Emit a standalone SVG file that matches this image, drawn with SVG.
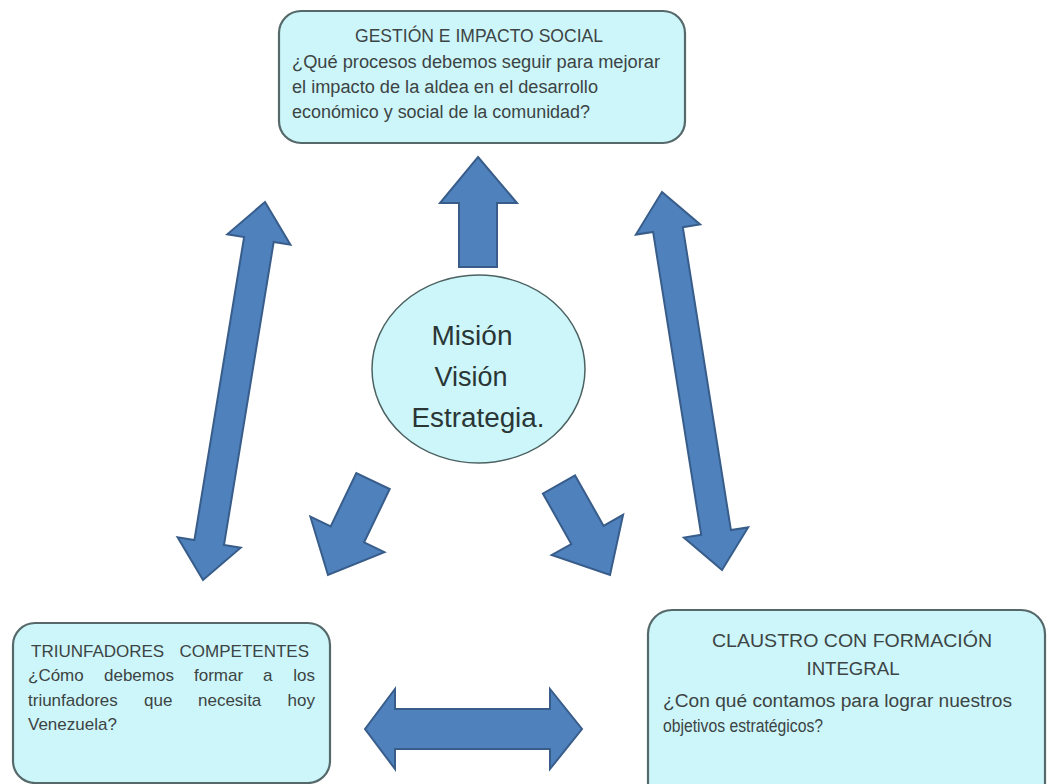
<svg xmlns="http://www.w3.org/2000/svg" width="1050" height="784" viewBox="0 0 1050 784">
  <style>
    .box { fill: #cdf6fa; stroke: #56696a; stroke-width: 2.2; }
    .oval { fill: #cdf6fa; stroke: #4d6262; stroke-width: 1.5; }
    .arrow { fill: #4f81bd; stroke: #385d8a; stroke-width: 2; stroke-linejoin: miter; }
    .t { font-family: "Liberation Sans", Arial, sans-serif; font-size: 18px; fill: #3c4444; }
    .s { font-family: "Liberation Sans", Arial, sans-serif; font-size: 17px; fill: #3c4444; }
    .big { font-family: "Liberation Sans", Arial, sans-serif; font-size: 27px; fill: #2a3636; text-anchor: middle; }
    .mid { text-anchor: middle; }
    .end { text-anchor: end; }
  </style>

  <rect width="1050" height="784" fill="#ffffff"/>

  <!-- connectors: block arrows -->
  <g id="connectors">
    <!-- centre to top box -->
    <polygon class="arrow" points="478,157 517,203 497,203 497,267 459,267 459,203 440,203"/>
    <!-- centre to bottom-left box -->
    <polygon class="arrow" points="389.7,489 364.1,542.4 384.4,552.1 328,575 310.4,516.7 330.7,526.4 356.3,473"/>
    <!-- centre to bottom-right box -->
    <polygon class="arrow" points="575.1,475.4 603.5,525.8 623.1,514.8 610,575 551.7,555 571.3,544 542.9,493.6"/>
    <!-- top box <-> bottom-left box -->
    <polygon class="arrow" points="265,202 290.4,244.7 273.7,241.9 224,544.9 240.7,547.7 203,580 177.6,537.3 194.4,540.1 244.1,237.1 227.3,234.3"/>
    <!-- top box <-> bottom-right box -->
    <polygon class="arrow" points="662,192 700.1,224.4 682.8,227.2 730.9,530.1 748.1,527.4 722,570 683.9,537.6 701.2,534.8 653.1,231.9 635.9,234.6"/>
    <!-- bottom-left box <-> bottom-right box -->
    <polygon class="arrow" points="365,729 395,689 395,709 550,709 550,689 582,729 550,769 550,749 395,749 395,769"/>
  </g>

  <!-- top node -->
  <g id="gestion">
    <rect class="box" x="279" y="11" width="406" height="132" rx="22" ry="22"/>
    <text class="t mid" x="479" y="42" textLength="248" lengthAdjust="spacingAndGlyphs">GESTIÓN  E IMPACTO  SOCIAL</text>
    <text class="t" x="292" y="68" textLength="368" lengthAdjust="spacingAndGlyphs">¿Qué procesos debemos  seguir para  mejorar</text>
    <text class="t" x="292" y="93" textLength="306" lengthAdjust="spacingAndGlyphs">el  impacto de la aldea  en el desarrollo</text>
    <text class="t" x="292" y="118" textLength="298" lengthAdjust="spacingAndGlyphs">económico y  social de la comunidad?</text>
  </g>

  <!-- centre node -->
  <g id="mision">
    <ellipse class="oval" cx="478.5" cy="369" rx="106.5" ry="94"/>
    <text class="big" x="472" y="345" textLength="81" lengthAdjust="spacingAndGlyphs">Misión</text>
    <text class="big" x="471" y="386" textLength="73" lengthAdjust="spacingAndGlyphs">Visión</text>
    <text class="big" x="478" y="427" textLength="133" lengthAdjust="spacingAndGlyphs">Estrategia.</text>
  </g>

  <!-- bottom-left node: justified lines, one text per word -->
  <g id="triunfadores">
    <rect class="box" x="13" y="623" width="317" height="160" rx="22" ry="22"/>
    <text class="s" x="31" y="657">TRIUNFADORES</text>
    <text class="s end" x="309" y="657">COMPETENTES</text>
    <text class="s" x="28" y="681">¿Cómo</text>
    <text class="s" x="104" y="681">debemos</text>
    <text class="s" x="194" y="681">formar</text>
    <text class="s" x="263" y="681">a</text>
    <text class="s end" x="315" y="681">los</text>
    <text class="s" x="28" y="706">triunfadores</text>
    <text class="s" x="144" y="706">que</text>
    <text class="s" x="198" y="706">necesita</text>
    <text class="s end" x="315" y="706">hoy</text>
    <text class="s" x="28" y="730">Venezuela?</text>
  </g>

  <!-- bottom-right node -->
  <g id="claustro">
    <rect class="box" x="648" y="610" width="397" height="200" rx="24" ry="24"/>
    <text class="t mid" x="852" y="647" textLength="280" lengthAdjust="spacingAndGlyphs">CLAUSTRO CON FORMACIÓN</text>
    <text class="t mid" x="853" y="675" textLength="93" lengthAdjust="spacingAndGlyphs">INTEGRAL</text>
    <text class="t" x="663" y="707" textLength="349" lengthAdjust="spacingAndGlyphs">¿Con qué contamos para lograr nuestros</text>
    <text class="t" x="663" y="732" textLength="160" lengthAdjust="spacingAndGlyphs">objetivos estratégicos?</text>
  </g>
</svg>
